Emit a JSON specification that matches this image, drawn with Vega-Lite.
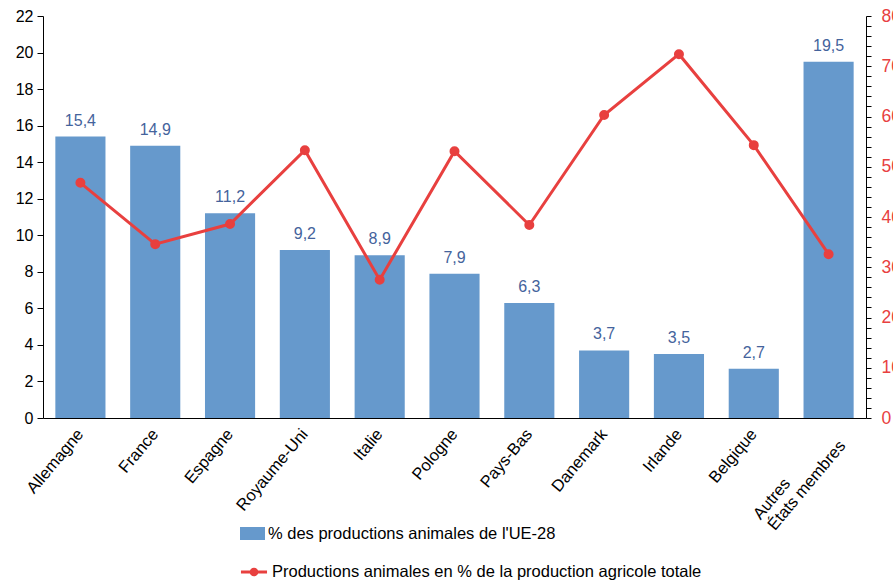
{
  "$schema": "https://vega.github.io/schema/vega-lite/v6.json",
  "width": 823,
  "height": 402,
  "autosize": {"type": "none"},
  "padding": {"left": 43, "top": 16, "right": 27, "bottom": 165},
  "config": {
    "view": {"stroke": null},
    "font": "Liberation Sans",
    "locale": {"number": {"decimal": ",", "thousands": " ", "grouping": [3], "currency": ["", " €"]}},
    "axis": {"labelFont": "Liberation Sans", "labelFontSize": 16, "labelColor": "#000000", "domainColor": "#000000", "tickColor": "#000000", "grid": false, "title": null}
  },
  "data": {
    "values": [
      {"pays": "Allemagne", "part": 15.4, "animal": 46.8},
      {"pays": "France", "part": 14.9, "animal": 34.6},
      {"pays": "Espagne", "part": 11.2, "animal": 38.6},
      {"pays": "Royaume-Uni", "part": 9.2, "animal": 53.3},
      {"pays": "Italie", "part": 8.9, "animal": 27.5},
      {"pays": "Pologne", "part": 7.9, "animal": 53.1},
      {"pays": "Pays-Bas", "part": 6.3, "animal": 38.4},
      {"pays": "Danemark", "part": 3.7, "animal": 60.3},
      {"pays": "Irlande", "part": 3.5, "animal": 72.4},
      {"pays": "Belgique", "part": 2.7, "animal": 54.3},
      {"pays": "Autres États membres", "part": 19.5, "animal": 32.6}
    ]
  },
  "encoding": {
    "x": {
      "field": "pays", "type": "nominal", "sort": null,
      "scale": {"paddingInner": 0.33, "paddingOuter": 0.165},
      "axis": {"labelAngle": -50, "labelAlign": "right", "labelBaseline": "middle", "ticks": false, "labelPadding": 13, "labelFontSize": 16.5,
        "labelExpr": "datum.label == 'Autres États membres' ? ['Autres\u00a0\u00a0\u00a0\u00a0\u00a0\u00a0\u00a0\u00a0\u00a0\u00a0\u00a0\u00a0\u00a0\u00a0\u200b', 'États membres'] : datum.label", "labelLineHeight": 18}
    }
  },
  "layer": [
    {
      "mark": {"type": "bar", "color": "#6699cc"},
      "encoding": {
        "y": {"field": "part", "type": "quantitative", "scale": {"domain": [0, 22], "nice": false},
          "axis": {"values": [0,2,4,6,8,10,12,14,16,18,20,22], "tickSize": 6, "labelPadding": 4}},
        "fill": {"datum": "% des productions animales de l'UE-28", "type": "nominal",
          "scale": {"range": ["#6699cc"]},
          "legend": {"orient": "none", "legendX": 197, "legendY": 505, "title": null, "symbolType": "M-1,-0.52H1V0.52H-1Z", "symbolSize": 625, "symbolStrokeWidth": 0, "labelFontSize": 16.5, "labelFont": "Liberation Sans", "labelOffset": 3, "labelLimit": 0, "symbolOpacity": 1}}
      }
    },
    {
      "mark": {"type": "text", "baseline": "bottom", "dy": -8, "fontSize": 16, "color": "#44639c", "font": "Liberation Sans"},
      "encoding": {
        "y": {"field": "part", "type": "quantitative", "scale": {"domain": [0, 22], "nice": false}, "axis": null},
        "text": {"field": "part", "type": "quantitative", "format": ".1f"}
      }
    },
    {
      "mark": {"type": "line", "color": "#e8403f", "strokeWidth": 3, "point": {"filled": true, "size": 64, "color": "#e8403f"}},
      "encoding": {
        "y": {"field": "animal", "type": "quantitative", "scale": {"domain": [0, 80], "nice": false},
          "axis": {"orient": "right", "values": [0,2,4,6,8,10,12,14,16,18,20,22,24,26,28,30,32,34,36,38,40,42,44,46,48,50,52,54,56,58,60,62,64,66,68,70,72,74,76,78,80],
            "labelExpr": "datum.value % 10 == 0 ? datum.label : ''", "labelColor": "#e8403f", "labelFontSize": 17.5, "tickSize": 5, "labelPadding": 10}},
        "stroke": {"datum": "Productions animales en % de la production agricole totale", "type": "nominal",
          "scale": {"range": ["#e8403f"]},
          "legend": {"orient": "none", "legendX": 196, "legendY": 541, "title": null, "symbolType": "M-1,0H1M-0.22,0A0.22,0.22 0 1,0 0.22,0A0.22,0.22 0 1,0 -0.22,0", "symbolSize": 680, "symbolStrokeWidth": 3, "symbolFillColor": "#e8403f", "labelFontSize": 16.5, "labelFont": "Liberation Sans", "labelOffset": 3, "labelLimit": 0}}
      }
    }
  ],
  "resolve": {"scale": {"y": "independent", "fill": "independent", "stroke": "independent"}}
}
